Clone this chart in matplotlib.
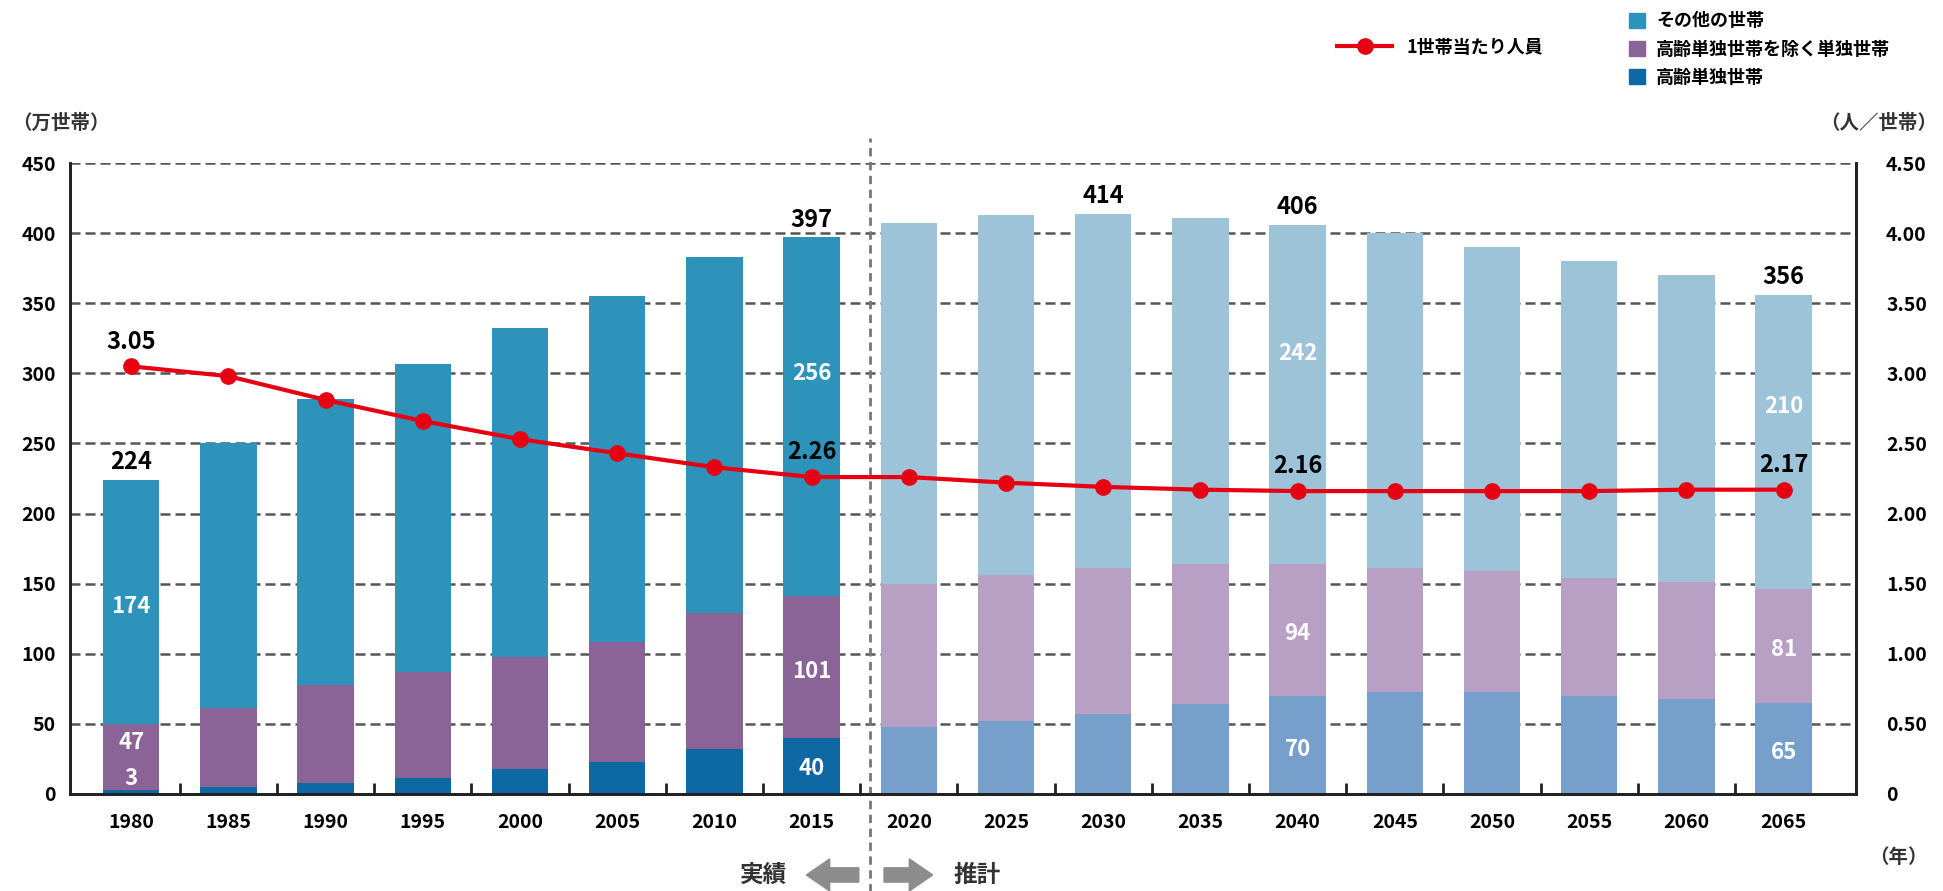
import matplotlib.pyplot as plt
import matplotlib
from matplotlib.patches import FancyArrow, Patch
from matplotlib.lines import Line2D
import numpy as np

matplotlib.rcParams['font.family'] = ['Liberation Sans Narrow', 'Noto Sans CJK JP', 'DejaVu Sans']
matplotlib.rcParams['font.weight'] = 'bold'

years = ['1980', '1985', '1990', '1995', '2000', '2005', '2010', '2015', '2020',
         '2025', '2030', '2035', '2040', '2045', '2050', '2055', '2060', '2065']
elderly_single = [3, 5, 8, 11, 18, 23, 32, 40, 48, 52, 57, 64, 70, 73, 73, 70, 68, 65]
other_single = [47, 56, 70, 76, 80, 85, 97, 101, 102, 104, 104, 100, 94, 88, 86, 84, 83, 81]
totals = [224, 250, 282, 307, 332, 355, 383, 397, 407, 413, 414, 411, 406, 400, 390, 380, 370, 356]
persons_per_hh = [3.05, 2.98, 2.81, 2.66, 2.53, 2.43, 2.33, 2.26, 2.26, 2.22, 2.19, 2.17,
                  2.16, 2.16, 2.16, 2.16, 2.17, 2.17]
other_hh = [t - a - b for t, a, b in zip(totals, elderly_single, other_single)]

n_actual = 8  # 1980-2015 are actual, rest projected

c_other = ['#2E93BA'] * n_actual + ['#9DC3D9'] * (len(years) - n_actual)
c_single = ['#8A6496'] * n_actual + ['#B8A0C4'] * (len(years) - n_actual)
c_elderly = ['#0D68A3'] * n_actual + ['#779FCB'] * (len(years) - n_actual)

fig = plt.figure(figsize=(19.43, 8.91), dpi=100)
ax = fig.add_axes([0.036, 0.109, 0.919, 0.708])
ax2 = ax.twinx()

x = np.arange(len(years))
w = 0.58
b1 = np.array(elderly_single)
b2 = b1 + np.array(other_single)
ax.bar(x, elderly_single, w, color=c_elderly, zorder=2)
ax.bar(x, other_single, w, bottom=b1, color=c_single, zorder=2)
ax.bar(x, other_hh, w, bottom=b2, color=c_other, zorder=2)

ax.set_ylim(0, 450)
ax.set_xlim(-0.63, len(years) - 1 + 0.74)
ax.set_yticks(np.arange(0, 451, 50))
for v in range(50, 451, 50):
    ax.axhline(v, color='#555555', lw=1.8, ls=(0, (4, 2)), zorder=1)

ax.set_xticks(x)
ax.set_xticklabels(years)
ax.set_xticks(x[:-1] + 0.5, minor=True)
ax.tick_params(axis='x', which='major', length=0, pad=14, labelsize=14)
ax.tick_params(axis='x', which='minor', direction='in', length=8, width=2, color='#222222')
ax.tick_params(axis='y', length=0, labelsize=14, pad=10)

for s in ['left', 'right', 'bottom']:
    ax.spines[s].set_linewidth(2)
    ax.spines[s].set_color('#222222')
    ax2.spines[s].set_linewidth(2)
    ax2.spines[s].set_color('#222222')
ax.spines['top'].set_visible(False)
ax2.spines['top'].set_visible(False)

# persons per household line
ax2.plot(x, persons_per_hh, color='#E60012', lw=3, marker='o', ms=11, zorder=5)
ax2.set_ylim(0, 4.5)
ax2.set_yticks(np.arange(0, 4.51, 0.5))
ax2.set_yticklabels(['0'] + ['%.2f' % v for v in np.arange(0.5, 4.51, 0.5)])
ax2.tick_params(axis='y', length=0, labelsize=14, pad=22)

# labels on selected bars
for i in [0, 7, 12, 17]:
    ax.text(x[i], totals[i] + 4, str(totals[i]), ha='center', va='bottom', fontsize=17)
    if i == 0:
        y_top = b2[i] + other_hh[i] * 0.48
        y_mid = 37
        y_low = 11
    else:
        y_top = b2[i] + other_hh[i] * 0.62
        y_mid = b1[i] + other_single[i] * 0.47
        y_low = elderly_single[i] * 0.45
    ax.text(x[i], y_top, str(other_hh[i]), ha='center', va='center', fontsize=16, color='white')
    ax.text(x[i], y_mid, str(other_single[i]), ha='center', va='center', fontsize=16, color='white')
    ax.text(x[i], y_low, str(elderly_single[i]), ha='center', va='center', fontsize=16, color='white')
ax.text(x[10], totals[10] + 4, str(totals[10]), ha='center', va='bottom', fontsize=17)

for i in [0, 7, 12, 17]:
    ax2.text(x[i], persons_per_hh[i] + 0.09, '%.2f' % persons_per_hh[i], ha='center',
             va='bottom', fontsize=17, zorder=6)

# actual / projection divider
ax.axvline(7.6, ymin=-0.155, ymax=1.04, color='#777777', lw=2, ls=(0, (3, 2)),
           clip_on=False, zorder=3)

fig.text(0.006, 0.862, '（万世帯）', fontsize=14, color='#333333', va='center')
fig.text(0.997, 0.862, '（人／世帯）', fontsize=14, color='#333333', va='center', ha='right')
fig.text(0.992, 0.038, '（年）', fontsize=14, color='#333333', va='center', ha='right')

fig.text(0.393, 0.018, '実績', fontsize=17, color='#333333', va='center', ha='center')
fig.text(0.503, 0.018, '推計', fontsize=17, color='#333333', va='center', ha='center')
fig.patches.append(FancyArrow(0.442, 0.018, -0.015, 0, width=0.016, head_width=0.036,
                              head_length=0.012, color='#8C8C8C',
                              transform=fig.transFigure, figure=fig))
fig.patches.append(FancyArrow(0.455, 0.018, 0.013, 0, width=0.016, head_width=0.036,
                              head_length=0.012, color='#8C8C8C',
                              transform=fig.transFigure, figure=fig))

# legend
line_h = Line2D([], [], color='#E60012', lw=3, marker='o', ms=11)
fig.legend([line_h], ['1世帯当たり人員'], loc='center left', bbox_to_anchor=(0.68, 0.947),
           frameon=False, fontsize=13, handlelength=3)
fig.legend([Patch(color='#2E93BA'), Patch(color='#8A6496'), Patch(color='#0D68A3')],
           ['その他の世帯', '高齢単独世帯を除く単独世帯', '高齢単独世帯'],
           loc='center left', bbox_to_anchor=(0.83, 0.945), frameon=False, fontsize=13,
           handlelength=0.9, handleheight=0.9, labelspacing=0.5, handletextpad=0.6)

plt.savefig('out.png', dpi=100)
